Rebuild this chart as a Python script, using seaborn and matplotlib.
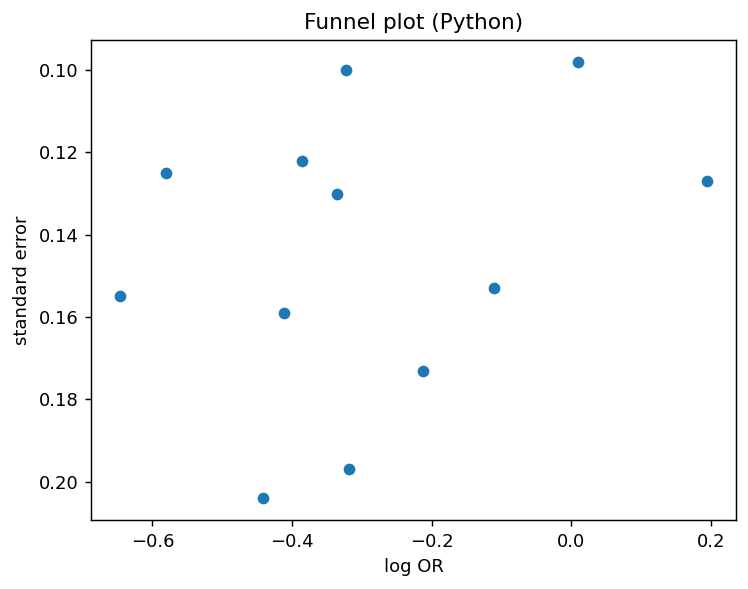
import matplotlib

matplotlib.use("Agg")
import matplotlib.pyplot as plt
import pandas as pd
import seaborn as sns

# values
log_or = [-0.323, 0.010, -0.581, -0.386, -0.335, 0.194,
          -0.646, -0.412, -0.110, -0.212, -0.319, -0.442]
std_err = [0.100, 0.098, 0.125, 0.122, 0.130, 0.127,
           0.155, 0.159, 0.153, 0.173, 0.197, 0.204]

df = pd.DataFrame({"log OR": log_or, "standard error": std_err})

DPI = 130
fig = plt.figure(figsize=(748 / DPI, 589 / DPI), dpi=DPI)
ax = fig.add_axes([91 / 748, 69 / 589, 645 / 748, 480 / 589])

sns.scatterplot(
    data=df,
    x="log OR",
    y="standard error",
    color="#1f77b4",
    s=42,
    linewidth=0,
    ax=ax,
)

ax.invert_yaxis()
ax.set_title("Funnel plot (Python)", fontsize=12)
ax.set_xlabel("log OR")
ax.set_ylabel("standard error")

fig.savefig("out.png", dpi=DPI)
plt.close(fig)
